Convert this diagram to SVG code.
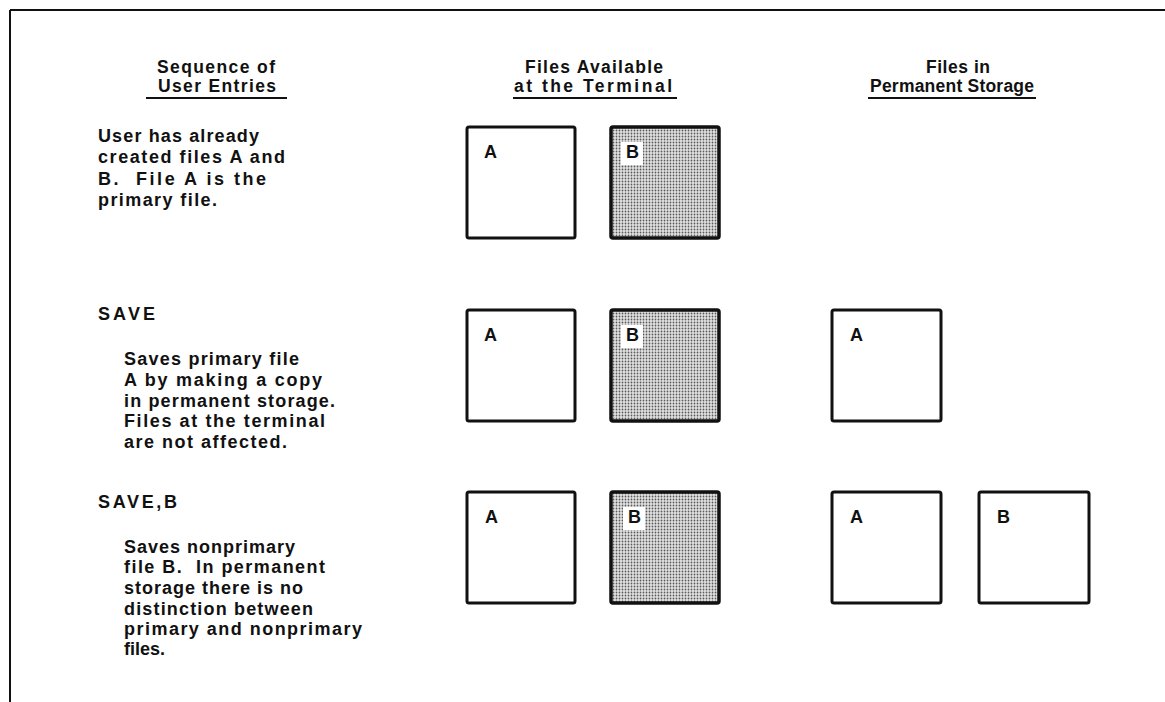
<svg xmlns="http://www.w3.org/2000/svg" width="1165" height="702" viewBox="0 0 1165 702">
<style>
  text { font-family: "Liberation Sans", Arial, sans-serif; font-weight: bold; fill: #111; }
  .hdr { font-size: 17.5px; text-anchor: middle; }
  .body { font-size: 18px; }
  .lbl { font-size: 18px; }
  .box { fill: #fff; stroke: #111; stroke-width: 3; }
  .shaded { fill: url(#halftone); stroke: #111; stroke-width: 3.5; }
  .rule { stroke: #111; stroke-width: 2; fill: none; }
</style>
<defs>
  <pattern id="halftone" width="3" height="3" patternUnits="userSpaceOnUse">
    <rect width="3" height="3" fill="#e2e2e2"/>
    <circle cx="1.5" cy="1.5" r="0.9" fill="#5a5a5a"/>
  </pattern>
</defs>
<rect width="1165" height="702" fill="#fff"/>
<g id="frame">
  <line class="rule" x1="10" y1="10" x2="1165" y2="10" stroke-width="2.5"/>
  <line class="rule" x1="10" y1="10" x2="10" y2="702" stroke-width="2.5"/>
</g>
<g id="headers">
  <text class="hdr" x="216" y="73" textLength="118" lengthAdjust="spacing">Sequence of</text>
  <text class="hdr" x="217" y="92" textLength="118" lengthAdjust="spacing">User Entries</text>
  <line class="rule" x1="146" y1="98" x2="287" y2="98"/>
  <text class="hdr" x="594" y="73" textLength="138" lengthAdjust="spacing">Files Available</text>
  <text class="hdr" x="593" y="92" textLength="158" lengthAdjust="spacing">at the Terminal</text>
  <line class="rule" x1="513" y1="98" x2="677" y2="98"/>
  <text class="hdr" x="958" y="73" textLength="64" lengthAdjust="spacing">Files in</text>
  <text class="hdr" x="952" y="92" textLength="164" lengthAdjust="spacing">Permanent Storage</text>
  <line class="rule" x1="868" y1="98" x2="1036" y2="98"/>
</g>
<g id="entry1">
  <text class="body" x="98" y="142" textLength="161" lengthAdjust="spacing">User has already</text>
  <text class="body" x="98" y="163" textLength="187" lengthAdjust="spacing">created files A and</text>
  <text class="body" x="98" y="185" textLength="168" lengthAdjust="spacing" xml:space="preserve">B.  File A is the</text>
  <text class="body" x="98" y="206" textLength="119" lengthAdjust="spacing">primary file.</text>
</g>
<g id="entry2">
  <text class="body" x="98" y="320" textLength="57" lengthAdjust="spacing">SAVE</text>
  <text class="body" x="124" y="365" textLength="175" lengthAdjust="spacing">Saves primary file</text>
  <text class="body" x="124" y="386" textLength="198" lengthAdjust="spacing">A by making a copy</text>
  <text class="body" x="124" y="407" textLength="211" lengthAdjust="spacing">in permanent storage.</text>
  <text class="body" x="124" y="427" textLength="201" lengthAdjust="spacing">Files at the terminal</text>
  <text class="body" x="124" y="448" textLength="163" lengthAdjust="spacing">are not affected.</text>
</g>
<g id="entry3">
  <text class="body" x="98" y="508" textLength="79" lengthAdjust="spacing">SAVE,B</text>
  <text class="body" x="124" y="553" textLength="171" lengthAdjust="spacing">Saves nonprimary</text>
  <text class="body" x="124" y="573" textLength="201" lengthAdjust="spacing" xml:space="preserve">file B.  In permanent</text>
  <text class="body" x="124" y="594" textLength="179" lengthAdjust="spacing">storage there is no</text>
  <text class="body" x="124" y="615" textLength="189" lengthAdjust="spacing">distinction between</text>
  <text class="body" x="124" y="635" textLength="238" lengthAdjust="spacing">primary and nonprimary</text>
  <text class="body" x="124" y="655" textLength="41" lengthAdjust="spacing">files.</text>
</g>
<g id="row1-terminal-A">
  <rect class="box" x="467" y="127" width="108" height="111" rx="2"/>
  <text class="lbl" x="484" y="158">A</text>
</g>
<g id="row1-terminal-B">
  <rect class="shaded" x="611" y="127" width="108" height="111" rx="2"/>
  <rect x="621" y="142" width="22" height="23" fill="#fff"/>
  <text class="lbl" x="626" y="158">B</text>
</g>
<g id="row2-terminal-A">
  <rect class="box" x="467" y="310" width="108" height="111" rx="2"/>
  <text class="lbl" x="484" y="341">A</text>
</g>
<g id="row2-terminal-B">
  <rect class="shaded" x="611" y="310" width="108" height="111" rx="2"/>
  <rect x="621" y="325" width="22" height="23" fill="#fff"/>
  <text class="lbl" x="626" y="341">B</text>
</g>
<g id="row2-storage-A">
  <rect class="box" x="832" y="310" width="109" height="111" rx="2"/>
  <text class="lbl" x="850" y="341">A</text>
</g>
<g id="row3-terminal-A">
  <rect class="box" x="467" y="492" width="108" height="111" rx="2"/>
  <text class="lbl" x="485" y="523">A</text>
</g>
<g id="row3-terminal-B">
  <rect class="shaded" x="611" y="492" width="108" height="111" rx="2"/>
  <rect x="623" y="507" width="22" height="23" fill="#fff"/>
  <text class="lbl" x="628" y="523">B</text>
</g>
<g id="row3-storage-A">
  <rect class="box" x="832" y="492" width="109" height="111" rx="2"/>
  <text class="lbl" x="850" y="523">A</text>
</g>
<g id="row3-storage-B">
  <rect class="box" x="979" y="492" width="110" height="111" rx="2"/>
  <text class="lbl" x="997" y="523">B</text>
</g>
<g id="connectors"></g>
</svg>
